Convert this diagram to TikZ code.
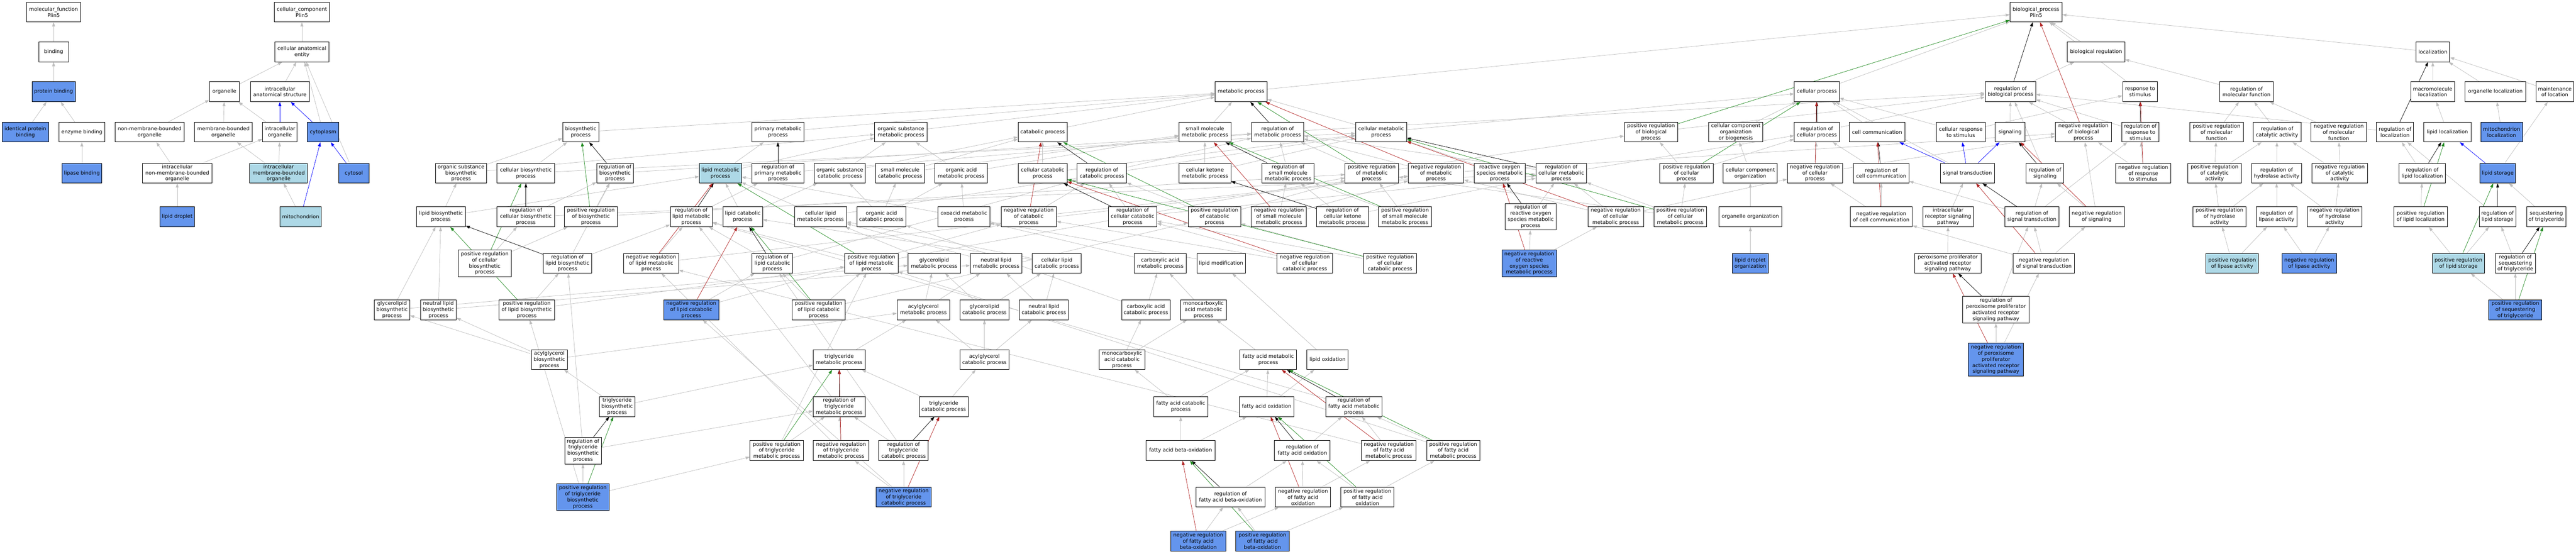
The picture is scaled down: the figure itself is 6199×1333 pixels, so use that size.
\documentclass[tikz,border=0pt]{standalone}
\usepackage{fontspec}
\setmainfont{DejaVu Sans}
\usetikzlibrary{arrows.meta}
\pgfdeclarelayer{edges}
\pgfsetlayers{edges,main}
\definecolor{isagray}{RGB}{190,190,190}
\definecolor{posgreen}{RGB}{34,139,34}
\definecolor{negred}{RGB}{178,34,34}
\definecolor{hitblue}{RGB}{100,149,237}
\definecolor{nearblue}{RGB}{173,216,230}

\begin{document}
\begin{tikzpicture}[x=1pt, y=-1pt,
    term/.style={draw, line width=1.1pt, fill=white, rectangle, align=center, minimum height=48pt,
        inner xsep=1.5pt, inner ysep=1pt, font=\fontsize{12.3}{14.7}\selectfont},
    hit/.style={term, fill=hitblue},
    near/.style={term, fill=nearblue},
    tall/.style={minimum height=64pt},
    isa/.style={color=isagray, line width=0.9pt, -{Triangle[length=10pt, width=7pt]}},
    reg/.style={isa, color=black},
    posreg/.style={isa, color=posgreen},
    negreg/.style={isa, color=negred},
    partof/.style={isa, color=blue}]
\useasboundingbox (0,0) rectangle (6199,1333);

% row 0
\node[term, minimum width=130] (mf) at (129,29) {molecular\_function\\Plin5};
\node[term, minimum width=133] (cc) at (726.5,29) {cellular\_component\\Plin5};
\node[term, minimum width=125] (bp) at (4899.5,29) {biological\_process\\Plin5};

% row 1
\node[term, minimum width=72] (binding) at (129,125) {binding};
\node[term, minimum width=131] (cae) at (726.5,125) {cellular anatomical\\entity};
\node[term, minimum width=138] (bioreg) at (5044,125) {biological regulation};
\node[term, minimum width=81] (loc) at (5854.5,125) {localization};

% row 2
\node[hit, minimum width=104] (pb) at (129,221) {protein binding};
\node[term, minimum width=72] (organelle) at (540,221) {organelle};
\node[term, minimum width=141] (ias) at (673.5,221) {intracellular\\anatomical structure};
\node[term, minimum width=125] (metab) at (2986.5,221) {metabolic process};
\node[term, minimum width=108] (cellproc) at (4372,221) {cellular process};
\node[term, minimum width=122] (regbp) at (4838,221) {regulation of\\biological process};
\node[term, minimum width=84] (resp) at (5150,221) {response to\\stimulus};
\node[term, minimum width=128] (regmf) at (5406,221) {regulation of\\molecular function};
\node[term, minimum width=106] (macloc) at (5854,221) {macromolecule\\localization};
\node[term, minimum width=146] (orgloc) at (6005,221) {organelle localization};
\node[term, minimum width=90] (mainloc) at (6148,221) {maintenance\\of location};

% row 3
\node[hit, minimum width=112] (ipb) at (61,318) {identical protein\\binding};
\node[term, minimum width=110] (enzb) at (197,318) {enzyme binding};
\node[term, minimum width=166] (nmbo) at (360,318) {non-membrane-bounded\\organelle};
\node[term, minimum width=139] (mbo) at (537.5,318) {membrane-bounded\\organelle};
\node[term, minimum width=83] (io) at (673.5,318) {intracellular\\organelle};
\node[hit, minimum width=75] (cytoplasm) at (777.5,318) {cytoplasm};
\node[term, minimum width=87] (biosyn) at (1397.5,318) {biosynthetic\\process};
\node[term, minimum width=126] (primet) at (1872,318) {primary metabolic\\process};
\node[term, minimum width=126] (osmet) at (2168,318) {organic substance\\metabolic process};
\node[term, minimum width=118] (catab) at (2509,318) {catabolic process};
\node[term, minimum width=125] (smmet) at (2899.5,318) {small molecule\\metabolic process};
\node[term, minimum width=125] (regmet) at (3074.5,318) {regulation of\\metabolic process};
\node[term, minimum width=123] (cellmet) at (3323.5,318) {cellular metabolic\\process};
\node[term, minimum width=128] (posregbp) at (3973,318) {positive regulation\\of biological\\process};
\node[term, minimum width=130] (ccob) at (4177,318) {cellular component\\organization\\or biogenesis};
\node[term, minimum width=108] (regcp) at (4372,318) {regulation of\\cellular process};
\node[term, minimum width=134] (cellcomm) at (4517,318) {cell communication};
\node[term, minimum width=117] (cellresp) at (4718.5,318) {cellular response\\to stimulus};
\node[term, minimum width=72] (signaling) at (4837,318) {signaling};
\node[term, minimum width=135] (negregbp) at (5013.5,318) {negative regulation\\of biological\\process};
\node[term, minimum width=89] (regresp) at (5150.5,318) {regulation of\\response to\\stimulus};
\node[term, minimum width=128] (posregmf) at (5334,318) {positive regulation\\of molecular\\function};
\node[term, minimum width=115] (regcat) at (5479.5,318) {regulation of\\catalytic activity};
\node[term, minimum width=134] (negregmf) at (5628,318) {negative regulation\\of molecular\\function};
\node[term, minimum width=89] (regloc) at (5763.5,318) {regulation of\\localization};
\node[term, minimum width=113] (lipidloc) at (5889.5,318) {lipid localization};
\node[hit, minimum width=100] (mitoloc) at (6020,318) {mitochondrion\\localization};

% row 4
\node[hit, minimum width=96] (lipaseb) at (197,417) {lipase binding};
\node[term, minimum width=167] (inmbo) at (426.5,417) {intracellular\\non-membrane-bounded\\organelle};
\node[near, minimum width=139] (imbo) at (670.5,417) {intracellular\\membrane-bounded\\organelle};
\node[hit, minimum width=73] (cytosol) at (851.5,417) {cytosol};
\node[term, minimum width=123] (osbio) at (1109.5,417) {organic substance\\biosynthetic\\process};
\node[term, minimum width=139] (cellbio) at (1265.5,417) {cellular biosynthetic\\process};
\node[term, minimum width=88] (regbio) at (1480,417) {regulation of\\biosynthetic\\process};
\node[near, minimum width=101] (lipmet) at (1733.5,417) {lipid metabolic\\process};
\node[term, minimum width=126] (regprim) at (1872,417) {regulation of\\primary metabolic\\process};
\node[term, minimum width=122] (oscat) at (2021,417) {organic substance\\catabolic process};
\node[term, minimum width=118] (smcat) at (2166,417) {small molecule\\catabolic process};
\node[term, minimum width=126] (oamet) at (2313,417) {organic acid\\metabolic process};
\node[term, minimum width=118] (cellcat) at (2509,417) {cellular catabolic\\process};
\node[term, minimum width=119] (regcatab) at (2651.5,417) {regulation of\\catabolic process};
\node[term, minimum width=125] (ketone) at (2899.5,417) {cellular ketone\\metabolic process};
\node[term, minimum width=125] (regsm) at (3099.5,417) {regulation of\\small molecule\\metabolic process};
\node[term, minimum width=128] (posregmet) at (3301,417) {positive regulation\\of metabolic\\process};
\node[term, minimum width=133] (negregmet) at (3455.5,417) {negative regulation\\of metabolic\\process};
\node[term, minimum width=122] (ros) at (3609,417) {reactive oxygen\\species metabolic\\process};
\node[term, minimum width=122] (regcellmet) at (3757,417) {regulation of\\cellular metabolic\\process};
\node[term, minimum width=129] (posregcp) at (4058.5,417) {positive regulation\\of cellular\\process};
\node[term, minimum width=130] (cco) at (4212,417) {cellular component\\organization};
\node[term, minimum width=133] (negregcp) at (4367.5,417) {negative regulation\\of cellular\\process};
\node[term, minimum width=134] (regcc) at (4527,417) {regulation of\\cell communication};
\node[term, minimum width=131] (sigtrans) at (4734.5,417) {signal transduction};
\node[term, minimum width=90] (regsig) at (4921,417) {regulation of\\signaling};
\node[term, minimum width=133] (negregresp) at (5157.5,417) {negative regulation\\of response\\to stimulus};
\node[term, minimum width=128] (posregcat) at (5329,417) {positive regulation\\of catalytic\\activity};
\node[term, minimum width=121] (reghyd) at (5478.5,417) {regulation of\\hydrolase activity};
\node[term, minimum width=133] (negregcat) at (5630.5,417) {negative regulation\\of catalytic\\activity};
\node[term, minimum width=112] (reglipidloc) at (5829,417) {regulation of\\lipid localization};
\node[hit, minimum width=85] (lipstor) at (6010.5,417) {lipid storage};

% row 5
\node[hit, minimum width=83] (ld) at (426.5,522) {lipid droplet};
\node[near, minimum width=99] (mito) at (723.5,522) {mitochondrion};
\node[term, minimum width=118] (lipbio) at (1061,522) {lipid biosynthetic\\process};
\node[term, minimum width=139] (regcellbio) at (1265.5,522) {regulation of\\cellular biosynthetic\\process};
\node[term, minimum width=128] (posregbio) at (1422,522) {positive regulation\\of biosynthetic\\process};
\node[term, minimum width=101] (reglipmet) at (1663.5,522) {regulation of\\lipid metabolic\\process};
\node[term, minimum width=95] (lipcat) at (1787.5,522) {lipid catabolic\\process};
\node[term, minimum width=125] (celllipmet) at (1974.5,522) {cellular lipid\\metabolic process};
\node[term, minimum width=118] (oacat) at (2121,522) {organic acid\\catabolic process};
\node[term, minimum width=125] (oxo) at (2319.5,522) {oxoacid metabolic\\process};
\node[term, minimum width=133] (negregcatab) at (2475.5,522) {negative regulation\\of catabolic\\process};
\node[term, minimum width=117] (regcellcat) at (2725.5,522) {regulation of\\cellular catabolic\\process};
\node[term, minimum width=127] (posregcatab) at (2922.5,522) {positive regulation\\of catabolic\\process};
\node[term, minimum width=133] (negregsm) at (3077.5,522) {negative regulation\\of small molecule\\metabolic process};
\node[term, minimum width=125] (regketone) at (3230.5,522) {regulation of\\cellular ketone\\metabolic process};
\node[term, minimum width=128] (posregsm) at (3381,522) {positive regulation\\of small molecule\\metabolic process};
\node[term, tall, minimum width=123] (regros) at (3683.5,522) {regulation of\\reactive oxygen\\species metabolic\\process};
\node[term, minimum width=134] (negregcellmet) at (3888,522) {negative regulation\\of cellular\\metabolic process};
\node[term, minimum width=127] (posregcellmet) at (4043.5,522) {positive regulation\\of cellular\\metabolic process};
\node[term, minimum width=152] (orgorg) at (4212,522) {organelle organization};
\node[term, minimum width=150] (negregcc) at (4527,522) {negative regulation\\of cell communication};
\node[term, minimum width=122] (irsp) at (4688,522) {intracellular\\receptor signaling\\pathway};
\node[term, minimum width=131] (regst) at (4889.5,522) {regulation of\\signal transduction};
\node[term, minimum width=133] (negregsig) at (5045.5,522) {negative regulation\\of signaling};
\node[term, minimum width=128] (posreghyd) at (5341,522) {positive regulation\\of hydrolase\\activity};
\node[term, minimum width=97] (reglipase) at (5478.5,522) {regulation of\\lipase activity};
\node[term, minimum width=132] (negreghyd) at (5618,522) {negative regulation\\of hydrolase\\activity};
\node[term, minimum width=130] (posreglipidloc) at (5825,522) {positive regulation\\of lipid localization};
\node[term, minimum width=88] (reglipstor) at (6010,522) {regulation of\\lipid storage};
\node[term, minimum width=95] (seqtg) at (6127.5,522) {sequestering\\of triglyceride};

% row 6
\node[term, tall, minimum width=127] (posregcellbio) at (1166.5,634) {positive regulation\\of cellular\\biosynthetic\\process};
\node[term, minimum width=117] (reglipbio) at (1365.5,634) {regulation of\\lipid biosynthetic\\process};
\node[term, minimum width=132] (negreglipmet) at (1567,634) {negative regulation\\of lipid metabolic\\process};
\node[term, minimum width=97] (reglipcat) at (1858.5,634) {regulation of\\lipid catabolic\\process};
\node[term, minimum width=128] (posreglipmet) at (2097,634) {positive regulation\\of lipid metabolic\\process};
\node[term, minimum width=126] (glymet) at (2248,634) {glycerolipid\\metabolic process};
\node[term, minimum width=124] (neutmet) at (2397,634) {neutral lipid\\metabolic process};
\node[term, minimum width=118] (celllipcat) at (2543,634) {cellular lipid\\catabolic process};
\node[term, minimum width=126] (carbmet) at (2792,634) {carboxylic acid\\metabolic process};
\node[term, minimum width=117] (lipmod) at (2938.5,634) {lipid modification};
\node[term, minimum width=134] (negregcellcat) at (3140,634) {negative regulation\\of cellular\\catabolic process};
\node[term, minimum width=128] (posregcellcat) at (3345,634) {positive regulation\\of cellular\\catabolic process};
\node[hit, tall, minimum width=132] (negregros) at (3680,634) {negative regulation\\of reactive\\oxygen species\\metabolic process};
\node[hit, minimum width=86] (ldorg) at (4212,634) {lipid droplet\\organization};
\node[term, minimum width=160] (ppar) at (4687,634) {peroxisome proliferator\\activated receptor\\signaling pathway};
\node[term, minimum width=147] (negregst) at (4918.5,634) {negative regulation\\of signal transduction};
\node[near, minimum width=127] (posreglipase) at (5371.5,634) {positive regulation\\of lipase activity};
\node[hit, minimum width=132] (negreglipase) at (5557,634) {negative regulation\\of lipase activity};
\node[near, minimum width=126] (posreglipstor) at (5916,634) {positive regulation\\of lipid storage};
\node[term, minimum width=96] (regseqtg) at (6053,634) {regulation of\\sequestering\\of triglyceride};

% row 7
\node[term, minimum width=85] (glybio) at (943.5,746) {glycerolipid\\biosynthetic\\process};
\node[term, minimum width=86] (neutbio) at (1055,746) {neutral lipid\\biosynthetic\\process};
\node[term, minimum width=133] (posreglipbio) at (1267.5,746) {positive regulation\\of lipid biosynthetic\\process};
\node[hit, minimum width=133] (negreglipcat) at (1663.5,746) {negative regulation\\of lipid catabolic\\process};
\node[term, minimum width=128] (posreglipcat) at (1970,746) {positive regulation\\of lipid catabolic\\process};
\node[term, minimum width=126] (acylmet) at (2222,746) {acylglycerol\\metabolic process};
\node[term, minimum width=118] (glycat) at (2369,746) {glycerolipid\\catabolic process};
\node[term, minimum width=118] (neutcat) at (2512,746) {neutral lipid\\catabolic process};
\node[term, minimum width=117] (carbcat) at (2757.5,746) {carboxylic acid\\catabolic process};
\node[term, minimum width=110] (monomet) at (2896,746) {monocarboxylic\\acid metabolic\\process};
\node[term, tall, minimum width=160] (regppar) at (4803,746) {regulation of\\peroxisome proliferator\\activated receptor\\signaling pathway};
\node[hit, minimum width=128] (posregseqtg) at (6053,746) {positive regulation\\of sequestering\\of triglyceride};

% row 8
\node[term, minimum width=86] (acylbio) at (1322,866) {acylglycerol\\biosynthetic\\process};
\node[term, minimum width=125] (tgmet) at (2019.5,866) {triglyceride\\metabolic process};
\node[term, minimum width=118] (acylcat) at (2369,866) {acylglycerol\\catabolic process};
\node[term, minimum width=110] (monocat) at (2700,866) {monocarboxylic\\acid catabolic\\process};
\node[term, minimum width=136] (famet) at (3052,866) {fatty acid metabolic\\process};
\node[term, minimum width=99] (lipox) at (3194.5,866) {lipid oxidation};
\node[hit, minimum height=79pt, minimum width=132] (negregppar) at (4803,866) {negative regulation\\of peroxisome\\proliferator\\activated receptor\\signaling pathway};

% row 9
\node[term, minimum width=86] (tgbio) at (1485,979) {triglyceride\\biosynthetic\\process};
\node[term, minimum width=125] (regtgmet) at (2019.5,979) {regulation of\\triglyceride\\metabolic process};
\node[term, minimum width=118] (tgcat) at (2271,979) {triglyceride\\catabolic process};
\node[term, minimum width=131] (facat) at (2841.5,979) {fatty acid catabolic\\process};
\node[term, minimum width=132] (faox) at (3048,979) {fatty acid oxidation};
\node[term, minimum width=136] (regfamet) at (3258,979) {regulation of\\fatty acid metabolic\\process};

% row 10
\node[term, tall, minimum width=88] (regtgbio) at (1403,1085) {regulation of\\triglyceride\\biosynthetic\\process};
\node[term, minimum width=128] (posregtgmet) at (1869,1085) {positive regulation\\of triglyceride\\metabolic process};
\node[term, minimum width=134] (negregtgmet) at (2024,1085) {negative regulation\\of triglyceride\\metabolic process};
\node[term, minimum width=119] (regtgcat) at (2174.5,1085) {regulation of\\triglyceride\\catabolic process};
\node[term, minimum width=166] (fabeta) at (2841,1085) {fatty acid beta-oxidation};
\node[term, minimum width=134] (regfaox) at (3134,1085) {regulation of\\fatty acid oxidation};
\node[term, minimum width=132] (negregfamet) at (3342,1085) {negative regulation\\of fatty acid\\metabolic process};
\node[term, minimum width=128] (posregfamet) at (3497,1085) {positive regulation\\of fatty acid\\metabolic process};

% row 11
\node[hit, tall, minimum width=127] (posregtgbio) at (1402.5,1197) {positive regulation\\of triglyceride\\biosynthetic\\process};
\node[hit, minimum width=133] (negregtgcat) at (2174.5,1197) {negative regulation\\of triglyceride\\catabolic process};
\node[term, minimum width=166] (regfabeta) at (2961,1197) {regulation of\\fatty acid beta-oxidation};
\node[term, minimum width=133] (negregfaox) at (3135.5,1197) {negative regulation\\of fatty acid\\oxidation};
\node[term, minimum width=127] (posregfaox) at (3290.5,1197) {positive regulation\\of fatty acid\\oxidation};

% row 12
\node[hit, minimum width=133] (negregfabeta) at (2883.5,1303) {negative regulation\\of fatty acid\\beta-oxidation};
\node[hit, minimum width=128] (posregfabeta) at (3038,1303) {positive regulation\\of fatty acid\\beta-oxidation};

\begin{pgfonlayer}{edges}
\fill[white] (0,0) rectangle (6199,1333);
\path[isa]
    (binding) edge (mf) (pb) edge (binding) (ipb) edge (pb) (enzb) edge (pb) (lipaseb) edge (enzb)
    (cae) edge (cc) (organelle) edge (cae) (ias) edge (cae) (cytoplasm) edge (cae) (cytosol) edge (cae)
    (nmbo) edge (organelle) (mbo) edge (organelle) (io) edge (organelle)
    (inmbo) edge (nmbo) (inmbo) edge (io) (imbo) edge (mbo) (imbo) edge (io)
    (ld) edge (inmbo) (mito) edge (imbo)
    (metab) edge (bp) (cellproc) edge (bp) (bioreg) edge (bp) (loc) edge (bp) (resp) edge (bp)
    (regbp) edge (bioreg) (regmf) edge (bioreg) (negregbp) edge (regbp) (posregbp) edge (regbp)
    (signaling) edge (regbp)
    (ccob) edge (cellproc) (cellcomm) edge (cellproc) (cellresp) edge (cellproc) (sigtrans) edge (cellproc)
    (cellmet) edge (cellproc) (cellresp) edge (resp)
    (regcp) edge (regbp) (posregcp) edge (posregbp) (posregcp) edge (regcp) (negregcp) edge (regcp)
    (negregcp) edge (negregbp) (regcc) edge (regcp) (negregcc) edge (regcc) (negregcc) edge (negregcp)
    (regsig) edge (regbp) (negregsig) edge (regsig) (negregsig) edge (negregbp)
    (regst) edge (regsig) (regst) edge (regcc) (regst) edge (regresp)
    (negregst) edge (regst) (negregst) edge (negregsig) (negregst) edge (negregcc)
    (irsp) edge (sigtrans) (ppar) edge (irsp) (regppar) edge (regst)
    (negregppar) edge (regppar) (negregppar) edge (negregst)
    (regresp) edge (regbp) (negregresp) edge (regresp) (negregresp) edge (negregbp)
    (posregmf) edge (regmf) (regcat) edge (regmf) (negregmf) edge (regmf)
    (posregcat) edge (posregmf) (posregcat) edge (regcat) (reghyd) edge (regcat)
    (negregcat) edge (regcat) (negregcat) edge (negregmf)
    (posreghyd) edge (posregcat) (posreghyd) edge (reghyd) (reglipase) edge (reghyd)
    (negreghyd) edge (reghyd) (negreghyd) edge (negregcat)
    (posreglipase) edge (posreghyd) (posreglipase) edge (reglipase)
    (negreglipase) edge (reglipase) (negreglipase) edge (negreghyd)
    (macloc) edge (loc) (orgloc) edge (loc) (mainloc) edge (loc)
    (lipidloc) edge (macloc) (mitoloc) edge (orgloc) (regloc) edge (regbp)
    (reglipidloc) edge (regloc) (lipstor) edge (mainloc)
    (posreglipidloc) edge (reglipidloc) (reglipstor) edge (regloc) (seqtg) edge (lipstor)
    (posreglipstor) edge (posreglipidloc) (posreglipstor) edge (reglipstor)
    (regseqtg) edge (reglipstor) (posregseqtg) edge (regseqtg) (posregseqtg) edge (posreglipstor)
    (ldorg) edge (orgorg) (orgorg) edge (cco) (cco) edge (ccob);
\path[isa]
    (smmet) edge (metab) (cellmet) edge (metab) (primet) edge (metab) (osmet) edge (metab)
    (catab) edge (metab) (biosyn) edge (metab)
    (regmet) edge (regbp) (regsm) edge (regmet) (posregmet) edge (regmet) (negregmet) edge (regmet)
    (posregmet) edge (posregbp) (negregmet) edge (negregbp)
    (regcellmet) edge (regmet) (regcellmet) edge (regcp)
    (posregcellmet) edge (regcellmet) (posregcellmet) edge (posregmet) (posregcellmet) edge (posregcp)
    (negregcellmet) edge (regcellmet) (negregcellmet) edge (negregmet) (negregcellmet) edge (negregcp)
    (ketone) edge (smmet) (ketone) edge (cellmet)
    (regketone) edge (regsm) (regketone) edge (regcellmet)
    (negregsm) edge (regsm) (negregsm) edge (negregmet)
    (posregsm) edge (regsm) (posregsm) edge (posregmet)
    (regros) edge (regcellmet) (negregros) edge (regros) (negregros) edge (negregcellmet)
    (ros) edge (cellmet)
    (lipmet) edge (primet) (lipmet) edge (osmet) (regprim) edge (regmet)
    (reglipmet) edge (regprim) (negreglipmet) edge (reglipmet) (negreglipmet) edge (negregmet)
    (posreglipmet) edge (reglipmet) (posreglipmet) edge (posregmet)
    (lipcat) edge (lipmet) (lipcat) edge (oscat)
    (reglipcat) edge (reglipmet) (reglipcat) edge (regcatab)
    (negreglipcat) edge (reglipcat) (negreglipcat) edge (negregcatab)
    (posreglipcat) edge (reglipcat) (posreglipcat) edge (posregcatab) (posreglipcat) edge (posreglipmet)
    (celllipmet) edge (lipmet) (celllipmet) edge (cellmet)
    (oscat) edge (osmet) (oscat) edge (catab) (smcat) edge (catab) (smcat) edge (smmet)
    (oamet) edge (osmet) (oamet) edge (smmet) (cellcat) edge (catab) (cellcat) edge (cellmet)
    (regcatab) edge (regmet) (posregcatab) edge (regcatab) (negregcatab) edge (regcatab)
    (negregcatab) edge (negregmet) (posregcatab) edge (posregmet)
    (regcellcat) edge (regcatab) (regcellcat) edge (regcellmet)
    (negregcellcat) edge (regcellcat) (posregcellcat) edge (regcellcat)
    (posregcellcat) edge (posregcatab) (negregcellcat) edge (negregcatab)
    (oacat) edge (oscat) (oacat) edge (smcat) (oacat) edge (oamet) (oxo) edge (oamet)
    (celllipcat) edge (lipcat) (celllipcat) edge (celllipmet) (carbmet) edge (oxo) (lipmod) edge (lipmet);
\path[isa]
    (osbio) edge (biosyn) (cellbio) edge (biosyn) (osbio) edge (osmet) (cellbio) edge (cellmet)
    (regbio) edge (regmet) (lipbio) edge (osbio) (lipbio) edge (lipmet)
    (regcellbio) edge (regbio) (regcellbio) edge (regcellmet)
    (posregbio) edge (regbio) (posregbio) edge (posregmet)
    (posregcellbio) edge (regcellbio) (posregcellbio) edge (posregbio)
    (reglipbio) edge (regbio) (reglipbio) edge (reglipmet)
    (posreglipbio) edge (reglipbio) (posreglipbio) edge (posreglipmet)
    (glybio) edge (lipbio) (glybio) edge (glymet) (neutbio) edge (lipbio) (neutbio) edge (neutmet)
    (acylbio) edge (glybio) (acylbio) edge (neutbio) (acylbio) edge (acylmet)
    (tgbio) edge (acylbio) (tgbio) edge (tgmet)
    (regtgbio) edge (reglipbio) (regtgbio) edge (regtgmet)
    (posregtgbio) edge (regtgbio) (posregtgbio) edge (posreglipbio) (posregtgbio) edge (posregtgmet)
    (glymet) edge (celllipmet) (neutmet) edge (celllipmet)
    (acylmet) edge (glymet) (acylmet) edge (neutmet)
    (glycat) edge (glymet) (glycat) edge (celllipcat) (neutcat) edge (neutmet) (neutcat) edge (celllipcat)
    (acylcat) edge (acylmet) (acylcat) edge (glycat) (acylcat) edge (neutcat) (tgmet) edge (acylmet)
    (regtgmet) edge (reglipmet) (posregtgmet) edge (regtgmet) (posregtgmet) edge (posreglipmet)
    (negregtgmet) edge (regtgmet) (negregtgmet) edge (negreglipmet)
    (tgcat) edge (tgmet) (tgcat) edge (acylcat)
    (regtgcat) edge (regtgmet) (regtgcat) edge (reglipcat)
    (negregtgcat) edge (regtgcat) (negregtgcat) edge (negregtgmet) (negregtgcat) edge (negreglipcat)
    (carbcat) edge (carbmet) (carbcat) edge (oacat) (monomet) edge (carbmet)
    (monocat) edge (carbcat) (monocat) edge (monomet) (famet) edge (monomet) (lipox) edge (lipmod)
    (facat) edge (monocat) (facat) edge (famet) (faox) edge (famet) (faox) edge (lipox)
    (regfamet) edge (reglipmet) (fabeta) edge (facat) (fabeta) edge (faox)
    (regfaox) edge (regfamet)
    (negregfamet) edge (regfamet) (negregfamet) edge (negreglipmet)
    (posregfamet) edge (regfamet) (posregfamet) edge (posreglipmet)
    (regfabeta) edge (regfaox)
    (negregfaox) edge (regfaox) (negregfaox) edge (negregfamet)
    (posregfaox) edge (regfaox) (posregfaox) edge (posregfamet)
    (negregfabeta) edge (regfabeta) (negregfabeta) edge (negregfaox)
    (posregfabeta) edge (regfabeta) (posregfabeta) edge (posregfaox);
\path[partof]
    (io) edge (ias) (cytoplasm) edge (ias) (mito) edge (cytoplasm) (cytosol) edge (cytoplasm)
    (sigtrans) edge (cellcomm) (sigtrans) edge (cellresp) (sigtrans) edge (signaling)
    (lipstor) edge (lipidloc);
\path[reg]
    (regbp) edge (bp) (regcp) edge (cellproc) (regcc) edge (cellcomm) (regsig) edge (signaling)
    (regst) edge (sigtrans) (regppar) edge (ppar) (regresp) edge (resp) (regloc) edge (loc)
    (reglipidloc) edge (lipidloc) (reglipstor) edge (lipstor) (regseqtg) edge (seqtg)
    (regmet) edge (metab) (regsm) edge (smmet) (regcellmet) edge (cellmet) (regketone) edge (ketone)
    (regros) edge (ros) (regprim) edge (primet) (reglipmet) edge (lipmet) (reglipcat) edge (lipcat)
    (regcatab) edge (catab) (regcellcat) edge (cellcat) (regbio) edge (biosyn)
    (regcellbio) edge (cellbio) (reglipbio) edge (lipbio) (regtgbio) edge (tgbio)
    (regtgmet) edge (tgmet) (regtgcat) edge (tgcat) (regfamet) edge (famet)
    (regfaox) edge (faox) (regfabeta) edge (fabeta);
\path[posreg]
    (posregbp) edge (bp) (posregcp) edge (cellproc) (posregmet) edge (metab)
    (posregcellmet) edge (cellmet) (posregsm) edge (smmet) (posreglipmet) edge (lipmet)
    (posreglipcat) edge (lipcat) (posregcatab) edge (catab) (posregcellcat) edge (cellcat)
    (posregbio) edge (biosyn) (posregcellbio) edge (cellbio) (posreglipbio) edge (lipbio)
    (posregtgbio) edge (tgbio) (posregtgmet) edge (tgmet) (posregfamet) edge (famet)
    (posregfaox) edge (faox) (posregfabeta) edge (fabeta) (posreglipidloc) edge (lipidloc)
    (posreglipstor) edge (lipstor) (posregseqtg) edge (seqtg);
\path[negreg]
    (negregbp) edge (bp) (negregcp) edge (cellproc) (negregcc) edge (cellcomm)
    (negregsig) edge (signaling) (negregst) edge (sigtrans) (negregppar) edge (ppar)
    (negregresp) edge (resp) (negregmet) edge (metab) (negregcellmet) edge (cellmet)
    (negregsm) edge (smmet) (negregros) edge (ros) (negreglipmet) edge (lipmet)
    (negreglipcat) edge (lipcat) (negregcatab) edge (catab) (negregcellcat) edge (cellcat)
    (negregtgmet) edge (tgmet) (negregtgcat) edge (tgcat) (negregfamet) edge (famet)
    (negregfaox) edge (faox) (negregfabeta) edge (fabeta);
\end{pgfonlayer}
\end{tikzpicture}
\end{document}
